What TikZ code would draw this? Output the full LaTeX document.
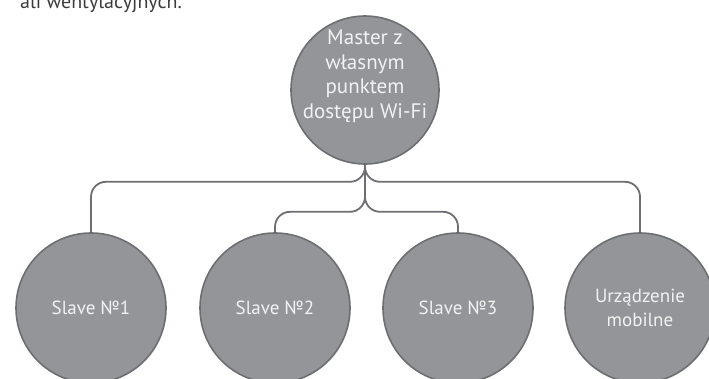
\documentclass[tikz,border=0pt]{standalone}
\usepackage{fontspec}
\setmainfont{PT Sans}
\definecolor{nodefill}{HTML}{939598}
\definecolor{linegray}{HTML}{6D6E71}
\definecolor{textlight}{HTML}{F2F2F2}
\definecolor{bodytext}{HTML}{3A3A3A}
\begin{document}
\begin{tikzpicture}[x=1pt,y=-1pt,
  bubble/.style={circle, fill=nodefill, draw=linegray, line width=1.6pt,
    inner sep=0pt, minimum size=150pt, text=textlight,
    font=\fontsize{19}{23.5}\selectfont, align=center},
  mastertext/.style={text=textlight, inner sep=0pt,
    font=\fontsize{21}{24.5}\selectfont, align=center},
  link/.style={draw=linegray, line width=1.8pt, rounded corners=15pt},
  bodytxt/.style={text=bodytext, inner sep=0pt, font=\fontsize{20}{24}\selectfont}]
\useasboundingbox (0,0) rectangle (709,378);
\clip (0,0) rectangle (709,378);
\node[bodytxt, anchor=base east] (intro) at (182,8) {ali wentylacyjnych.};
\node[bubble, minimum size=148pt] (m) at (365,90) {};
\node[mastertext] (mt) at ([yshift=14pt]m.center) {Master z\\własnym\\punktem\\dostępu Wi-Fi};
\node[bubble] (s1) at (91,308) {Slave №1};
\node[bubble] (s2) at (275,308) {Slave №2};
\node[bubble] (s3) at (458,308) {Slave №3};
\node[bubble] (s4) at (640,308) {Urządzenie\\mobilne};
\draw[link] (m.south) -- ++(0,17) -| (s1.north);
\draw[link] (m.south) -- ++(0,17) -| (s4.north);
\draw[link] (m.south) -- ++(0,47) -| (s2.north);
\draw[link] (m.south) -- ++(0,47) -| (s3.north);
\end{tikzpicture}
\end{document}
